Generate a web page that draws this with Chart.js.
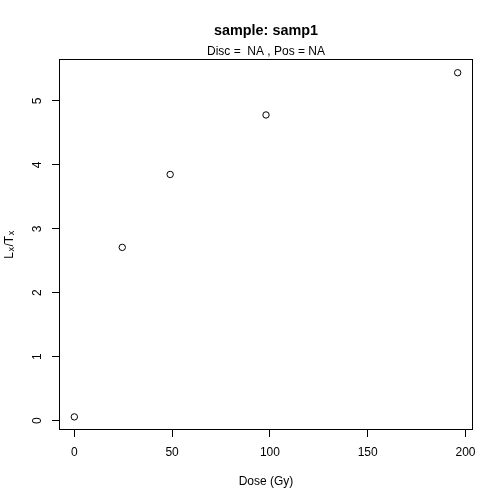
<!DOCTYPE html>
<html>
<head>
<meta charset="utf-8">
<script src="https://cdn.jsdelivr.net/npm/chart.js@4.4.1/dist/chart.umd.min.js"></script>
<style>
  html, body { margin: 0; padding: 0; background: #fff; }
  canvas { display: block; }
</style>
</head>
<body>
<canvas id="doseChart" width="504" height="504"></canvas>
<script>
// values
var doseValues = [0, 24.5, 49, 98, 196];
var lxtxValues = [0.06, 2.71, 3.85, 4.78, 5.44];
var xTickValues = [0, 50, 100, 150, 200];
var yTickValues = [0, 1, 2, 3, 4, 5];
var xLimits = [-7.84, 203.84];
var yLimits = [-0.145, 5.655];
var titleText = 'sample: samp1';
var subtitleText = 'Disc =  NA , Pos = NA';
var xTitleText = 'Dose (Gy)';
// y label is L_x/T_x, pieces flagged true are subscripts
var yTitleParts = ['L', 'x', '/T', 'x'];
var yTitleSub = [false, true, false, true];

var fontFamily = "'Liberation Sans', Arial, Helvetica, sans-serif";
Chart.defaults.font.family = fontFamily;
Chart.defaults.color = '#000';

// the box round the plot region, like R's box()
var plotBox = {
    id: 'plotBox',
    afterDatasetsDraw: function(chart) {
        var a = chart.chartArea;
        var ctx = chart.ctx;
        ctx.save();
        ctx.strokeStyle = '#000';
        ctx.lineWidth = 1;
        ctx.strokeRect(Math.round(a.left) + 0.5, Math.round(a.top) + 0.5,
            Math.round(a.right - a.left) - 1, Math.round(a.bottom - a.top) - 1);
        ctx.restore();
    }
};

// y axis title with real subscripts (chart.js title can't do that)
var yTitleDraw = {
    id: 'yTitleDraw',
    afterDraw: function(chart) {
        var a = chart.chartArea;
        var ctx = chart.ctx;
        var big = '12px ' + fontFamily, small = '9px ' + fontFamily;
        ctx.save();
        ctx.fillStyle = '#000';
        ctx.textBaseline = 'alphabetic';
        ctx.textAlign = 'left';
        var total = 0;
        yTitleParts.forEach(function(p, i) {
            ctx.font = yTitleSub[i] ? small : big;
            total += ctx.measureText(p).width + (yTitleSub[i] ? 1 : 0);
        });
        ctx.translate(8.5, (a.top + a.bottom) / 2);
        ctx.rotate(-Math.PI / 2);
        var x = -total / 2;
        yTitleParts.forEach(function(p, i) {
            ctx.font = yTitleSub[i] ? small : big;
            ctx.fillText(p, x + (yTitleSub[i] ? 0.5 : 0), yTitleSub[i] ? 5.8 : 4.2);
            x += ctx.measureText(p).width + (yTitleSub[i] ? 1 : 0);
        });
        ctx.restore();
    }
};

var points = doseValues.map(function(d, i) {
    return { x: d, y: lxtxValues[i] };
});

var ctx = document.getElementById('doseChart').getContext('2d');
var doseChart = new Chart(ctx, {
    type: 'scatter',
    data: {
        datasets: [{
            data: points,
            showLine: false,
            pointStyle: 'circle',
            pointRadius: 3.2,
            pointBorderWidth: 1,
            pointBorderColor: '#000',
            pointBackgroundColor: 'rgba(0,0,0,0)'
        }]
    },
    options: {
        responsive: false,
        animation: false,
        devicePixelRatio: 1,
        layout: { padding: { top: 0, left: 0, right: 31, bottom: 0 } },
        plugins: {
            legend: { display: false },
            tooltip: { enabled: false },
            title: {
                display: true,
                text: titleText,
                fullSize: false,
                color: '#000',
                font: { size: 14.4, weight: 'bold' },
                padding: { top: 22.4, bottom: 0 }
            },
            subtitle: {
                display: true,
                text: subtitleText,
                fullSize: false,
                color: '#000',
                font: { size: 12 },
                padding: { top: 4.9, bottom: 0 }
            }
        },
        scales: {
            x: {
                type: 'linear',
                position: 'bottom',
                min: xLimits[0],
                max: xLimits[1],
                afterBuildTicks: function(scale) {
                    scale.ticks = xTickValues.map(function(v) { return { value: v }; });
                },
                afterFit: function(scale) { scale.height = 74; },
                border: { display: false },
                grid: {
                    drawOnChartArea: false,
                    drawTicks: true,
                    tickLength: 7,
                    color: '#000',
                    tickColor: '#000',
                    lineWidth: 1
                },
                ticks: {
                    color: '#000',
                    font: { size: 12 },
                    padding: 8,
                    maxRotation: 0,
                    autoSkip: false
                },
                title: {
                    display: true,
                    text: xTitleText,
                    color: '#000',
                    font: { size: 12 },
                    padding: { top: 0, bottom: 15.3 }
                }
            },
            y: {
                type: 'linear',
                position: 'left',
                min: yLimits[0],
                max: yLimits[1],
                afterBuildTicks: function(scale) {
                    scale.ticks = yTickValues.map(function(v) { return { value: v }; });
                },
                afterFit: function(scale) { scale.width = 59; },
                border: { display: false },
                grid: {
                    drawOnChartArea: false,
                    drawTicks: true,
                    tickLength: 7,
                    color: '#000',
                    tickColor: '#000',
                    lineWidth: 1
                },
                ticks: {
                    color: '#000',
                    font: { size: 12 },
                    minRotation: 90,
                    maxRotation: 90,
                    crossAlign: 'center',
                    padding: 10.6,
                    autoSkip: false
                },
                title: { display: false }
            }
        }
    },
    plugins: [plotBox, yTitleDraw]
});
</script>
</body>
</html>
